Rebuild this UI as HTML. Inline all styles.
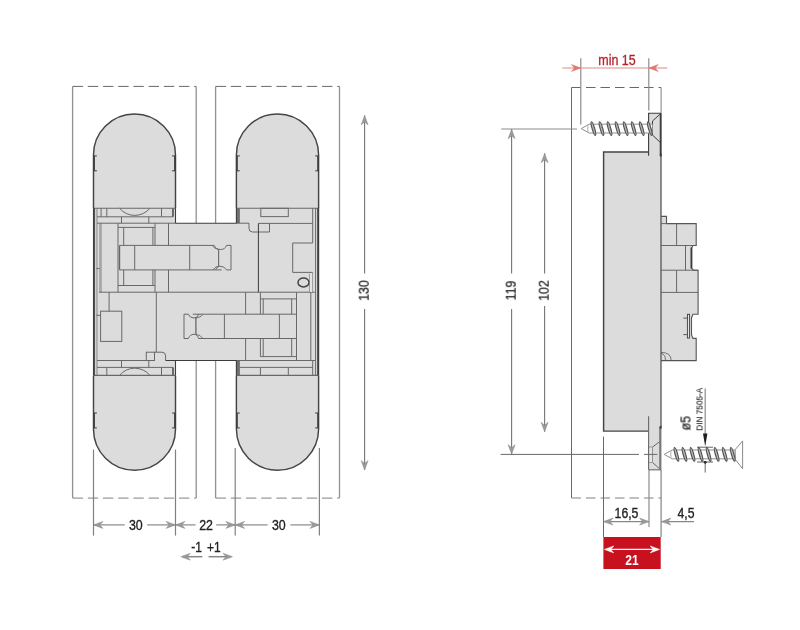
<!DOCTYPE html>
<html lang="en">
<head>
<meta charset="utf-8">
<title>Hinge dimensions</title>
<style>
html,body{margin:0;padding:0;background:#fff;}
body{width:800px;height:630px;overflow:hidden;}
svg{display:block;font-family:"Liberation Sans",sans-serif;}
svg text{will-change:transform;}
</style>
</head>
<body>
<svg width="800" height="630" viewBox="0 0 800 630">
<rect x="0" y="0" width="800" height="630" fill="#ffffff"/>
<g id="front-view">
<line x1="72.6" y1="86.4" x2="72.6" y2="498.1" stroke="#919191" stroke-width="1.3" />
<line x1="196.2" y1="86.4" x2="196.2" y2="498.1" stroke="#919191" stroke-width="1.3" />
<line x1="72.6" y1="86.4" x2="196.2" y2="86.4" stroke="#686868" stroke-width="1" stroke-dasharray="10.4 4.8"/>
<line x1="72.6" y1="498.1" x2="196.2" y2="498.1" stroke="#808080" stroke-width="1" stroke-dasharray="10.4 4.8"/>
<line x1="215.6" y1="86.4" x2="215.6" y2="498.1" stroke="#919191" stroke-width="1.3" />
<line x1="339.5" y1="86.4" x2="339.5" y2="498.1" stroke="#919191" stroke-width="1.3" />
<line x1="215.6" y1="86.4" x2="339.5" y2="86.4" stroke="#686868" stroke-width="1" stroke-dasharray="10.4 4.8"/>
<line x1="215.6" y1="498.1" x2="339.5" y2="498.1" stroke="#808080" stroke-width="1" stroke-dasharray="10.4 4.8"/>
<path d="M93.5,155.0 A41.0,41.0 0 0 1 175.5,155.0 V429.2 A41.0,41.0 0 0 1 93.5,429.2 Z" fill="#dcdcdc" stroke="none" stroke-width="0" />
<path d="M236.4,155.10000000000002 A41.10000000000001,41.10000000000001 0 0 1 318.6,155.10000000000002 V429.09999999999997 A41.10000000000001,41.10000000000001 0 0 1 236.4,429.09999999999997 Z" fill="#dcdcdc" stroke="none" stroke-width="0" />
<rect x="174.5" y="223.2" width="62.9" height="137.3" fill="#dcdcdc" />
<rect x="99.2" y="223.2" width="2.6" height="69.0" fill="#a4a4a4" />
<rect x="94.4" y="208.2" width="2.6" height="167.2" fill="#cfcfcf" />
<rect x="172" y="208.3" width="2" height="8.5" fill="#6a6a6a" />
<rect x="172" y="367.4" width="2" height="8.0" fill="#6a6a6a" />
<rect x="236.3" y="208.3" width="3.6" height="14.9" fill="#707070" />
<rect x="236.3" y="360.5" width="3.6" height="14.9" fill="#707070" />
<line x1="97" y1="208.2" x2="97" y2="375.4" stroke="#8c8c8c" stroke-width="1" />
<line x1="101.1" y1="208.2" x2="101.1" y2="216.8" stroke="#686868" stroke-width="1" />
<line x1="106.8" y1="208.2" x2="106.8" y2="216.8" stroke="#686868" stroke-width="1" />
<line x1="161.5" y1="208.2" x2="161.5" y2="216.8" stroke="#686868" stroke-width="1" />
<line x1="97" y1="216.8" x2="173" y2="216.8" stroke="#686868" stroke-width="1" />
<path d="M119.5,208.2 A19.75,19.75 0 0 0 150,208.2" fill="none" stroke="#686868" stroke-width="1" />
<line x1="121.5" y1="216.8" x2="121.5" y2="223.2" stroke="#686868" stroke-width="1" />
<line x1="148.8" y1="216.8" x2="148.8" y2="223.2" stroke="#686868" stroke-width="1" />
<line x1="118" y1="223.2" x2="118" y2="292.2" stroke="#686868" stroke-width="1" />
<line x1="155" y1="223.2" x2="155" y2="245.4" stroke="#686868" stroke-width="1" />
<line x1="155" y1="269.9" x2="155" y2="292.2" stroke="#686868" stroke-width="1" />
<line x1="118" y1="227.4" x2="155" y2="227.4" stroke="#686868" stroke-width="1" />
<line x1="123.7" y1="227.4" x2="123.7" y2="245.4" stroke="#686868" stroke-width="1" />
<line x1="123.7" y1="269.9" x2="123.7" y2="285.5" stroke="#686868" stroke-width="1" />
<line x1="152.9" y1="227.4" x2="152.9" y2="245.4" stroke="#686868" stroke-width="1" />
<line x1="152.9" y1="269.9" x2="152.9" y2="285.5" stroke="#686868" stroke-width="1" />
<line x1="168.5" y1="223.2" x2="168.5" y2="245.4" stroke="#686868" stroke-width="1" />
<line x1="168.5" y1="269.9" x2="168.5" y2="292.2" stroke="#686868" stroke-width="1" />
<line x1="119.5" y1="245.4" x2="214" y2="245.4" stroke="#686868" stroke-width="1" />
<line x1="226.5" y1="245.4" x2="231" y2="245.4" stroke="#686868" stroke-width="1" />
<line x1="119.5" y1="269.9" x2="221.7" y2="269.9" stroke="#686868" stroke-width="1" />
<line x1="226.5" y1="269.9" x2="231" y2="269.9" stroke="#686868" stroke-width="1" />
<line x1="119.5" y1="245.4" x2="119.5" y2="269.9" stroke="#686868" stroke-width="1.4" />
<line x1="231" y1="245.4" x2="231" y2="269.9" stroke="#686868" stroke-width="1" />
<line x1="134.7" y1="245.4" x2="134.7" y2="269.9" stroke="#686868" stroke-width="1" />
<line x1="189.7" y1="245.4" x2="189.7" y2="269.9" stroke="#686868" stroke-width="1" />
<path d="M214.2,245.4 Q215.8,249.5 220.6,249.5 Q225,249.5 226.5,245.4" fill="none" stroke="#686868" stroke-width="1" />
<path d="M212.2,245.4 Q214,248.8 218.4,249.4" fill="none" stroke="#686868" stroke-width="0.9" />
<path d="M213,269.9 Q215,266.2 219.8,266.2 Q224.6,266.2 226.5,269.9" fill="none" stroke="#686868" stroke-width="1" />
<path d="M215.6,269.9 Q216.6,267 219.2,266.3" fill="none" stroke="#686868" stroke-width="0.9" />
<line x1="218.6" y1="249.3" x2="218.6" y2="266.3" stroke="#686868" stroke-width="1.1" />
<line x1="118" y1="285.5" x2="155" y2="285.5" stroke="#686868" stroke-width="1" />
<line x1="99" y1="292.2" x2="315.6" y2="292.2" stroke="#686868" stroke-width="1" />
<line x1="96.4" y1="268.6" x2="99.6" y2="268.6" stroke="#686868" stroke-width="1" />
<line x1="96.4" y1="315.3" x2="100.6" y2="315.3" stroke="#686868" stroke-width="1" />
<line x1="109.1" y1="292.2" x2="109.1" y2="311.2" stroke="#686868" stroke-width="1" />
<rect x="100.6" y="311.2" width="21.2" height="30.2" fill="none" stroke="#686868" stroke-width="1"/>
<line x1="156.3" y1="292.2" x2="156.3" y2="352.2" stroke="#686868" stroke-width="1" />
<rect x="146.3" y="352.2" width="8.2" height="8.3" fill="none" stroke="#686868" stroke-width="1"/>
<path d="M154.5,352.2 H162 Q165.6,352.2 165.6,356 V360.5" fill="none" stroke="#686868" stroke-width="1" />
<line x1="97" y1="360.5" x2="154.5" y2="360.5" stroke="#686868" stroke-width="1" />
<line x1="121.5" y1="360.5" x2="121.5" y2="367.4" stroke="#686868" stroke-width="1" />
<line x1="148.8" y1="360.5" x2="148.8" y2="367.4" stroke="#686868" stroke-width="1" />
<line x1="97" y1="367.4" x2="173" y2="367.4" stroke="#686868" stroke-width="1" />
<line x1="106.8" y1="367.4" x2="106.8" y2="375.4" stroke="#686868" stroke-width="1" />
<line x1="161.5" y1="367.4" x2="161.5" y2="375.4" stroke="#686868" stroke-width="1" />
<path d="M119.5,375.4 A19.75,19.75 0 0 1 150,375.4" fill="none" stroke="#686868" stroke-width="1" />
<line x1="184" y1="314.2" x2="188.3" y2="314.2" stroke="#686868" stroke-width="1" />
<line x1="192.8" y1="314.2" x2="296.5" y2="314.2" stroke="#686868" stroke-width="1" />
<line x1="184" y1="338.5" x2="188.3" y2="338.5" stroke="#686868" stroke-width="1" />
<line x1="198.6" y1="338.5" x2="296.5" y2="338.5" stroke="#686868" stroke-width="1" />
<line x1="184" y1="314.2" x2="184" y2="338.5" stroke="#686868" stroke-width="1" />
<line x1="224.4" y1="314.2" x2="224.4" y2="338.5" stroke="#686868" stroke-width="1" />
<line x1="279.4" y1="314.2" x2="279.4" y2="338.5" stroke="#686868" stroke-width="1" />
<path d="M188.3,314.2 Q189.8,318 194,318 Q197.6,318 198.9,314.2" fill="none" stroke="#686868" stroke-width="1" />
<path d="M195,318 Q201,317.6 202.9,314.2" fill="none" stroke="#686868" stroke-width="0.9" />
<path d="M188.3,338.5 Q189.8,334.3 194,334.3 Q197.4,334.3 198.6,338.5" fill="none" stroke="#686868" stroke-width="1" />
<path d="M195.6,334.4 Q200.6,334.6 202.9,338.5" fill="none" stroke="#686868" stroke-width="0.9" />
<line x1="195.9" y1="318" x2="195.9" y2="334.6" stroke="#686868" stroke-width="1.3" />
<line x1="245.6" y1="292.2" x2="245.6" y2="314.2" stroke="#686868" stroke-width="1" />
<line x1="245.6" y1="338.5" x2="245.6" y2="360.5" stroke="#686868" stroke-width="1" />
<rect x="260.8" y="208.3" width="27.5" height="8.3" fill="none" stroke="#686868" stroke-width="1"/>
<line x1="258.5" y1="223.4" x2="312.7" y2="223.4" stroke="#686868" stroke-width="1" />
<path d="M236.4,223.2 H249 V228.6 Q249,232 252.6,232 H269.5 V223.4" fill="none" stroke="#686868" stroke-width="1" />
<line x1="258.4" y1="223.4" x2="258.4" y2="292.2" stroke="#3c3c3c" stroke-width="1" />
<path d="M312.7,208.3 V243 H292.7 V272.4 H312.4 V292.2" fill="none" stroke="#686868" stroke-width="1" />
<line x1="309.9" y1="273.5" x2="309.9" y2="292.2" stroke="#686868" stroke-width="1" />
<ellipse cx="303.5" cy="282.4" rx="5.5" ry="4.5" fill="none" stroke="#454545" stroke-width="1.5"/>
<rect x="309.9" y="273.2" width="2.5" height="18.8" fill="#e4e4e4" />
<line x1="315.6" y1="208.2" x2="315.6" y2="375.4" stroke="#686868" stroke-width="1" />
<line x1="260.4" y1="292.2" x2="260.4" y2="314.2" stroke="#686868" stroke-width="1" />
<line x1="260.4" y1="338.5" x2="260.4" y2="356.6" stroke="#686868" stroke-width="1" />
<line x1="263.2" y1="298.9" x2="263.2" y2="314.2" stroke="#686868" stroke-width="1" />
<line x1="263.2" y1="338.5" x2="263.2" y2="356.6" stroke="#686868" stroke-width="1" />
<line x1="291.7" y1="298.9" x2="291.7" y2="314.2" stroke="#686868" stroke-width="1" />
<line x1="291.7" y1="338.5" x2="291.7" y2="356.6" stroke="#686868" stroke-width="1" />
<line x1="296.5" y1="292.2" x2="296.5" y2="360.5" stroke="#686868" stroke-width="1" />
<line x1="310.8" y1="292.2" x2="310.8" y2="360.5" stroke="#686868" stroke-width="1" />
<line x1="260.4" y1="298.9" x2="296.5" y2="298.9" stroke="#686868" stroke-width="1" />
<line x1="260.4" y1="356.6" x2="296.5" y2="356.6" stroke="#686868" stroke-width="1" />
<line x1="236.3" y1="360.5" x2="315.6" y2="360.5" stroke="#686868" stroke-width="1" />
<line x1="239.9" y1="367.4" x2="312.7" y2="367.4" stroke="#686868" stroke-width="1" />
<line x1="260.4" y1="367.4" x2="260.4" y2="375.4" stroke="#686868" stroke-width="1" />
<line x1="288.3" y1="367.4" x2="288.3" y2="375.4" stroke="#686868" stroke-width="1" />
<line x1="312.7" y1="360.5" x2="312.7" y2="375.4" stroke="#686868" stroke-width="1" />
<line x1="93.5" y1="208.2" x2="175.5" y2="208.2" stroke="#686868" stroke-width="1.1" />
<line x1="93.5" y1="375.4" x2="175.5" y2="375.4" stroke="#686868" stroke-width="1.1" />
<line x1="236.4" y1="208.2" x2="318.6" y2="208.2" stroke="#686868" stroke-width="1.1" />
<line x1="236.4" y1="375.4" x2="318.6" y2="375.4" stroke="#686868" stroke-width="1.1" />
<line x1="97" y1="223.2" x2="175.5" y2="223.2" stroke="#686868" stroke-width="1" />
<line x1="175.5" y1="223.2" x2="236.4" y2="223.2" stroke="#3c3c3c" stroke-width="1.1" />
<line x1="165.6" y1="360.5" x2="236.4" y2="360.5" stroke="#3c3c3c" stroke-width="1.1" />
<path d="M93.5,208.2 V155.0 A41.0,41.0 0 0 1 175.5,155.0 V208.2" fill="none" stroke="#444" stroke-width="1.45" />
<path d="M93.5,375.4 V429.2 A41.0,41.0 0 0 0 175.5,429.2 V375.4" fill="none" stroke="#444" stroke-width="1.45" />
<path d="M236.4,208.2 V155.10000000000002 A41.10000000000001,41.10000000000001 0 0 1 318.6,155.10000000000002 V208.2" fill="none" stroke="#444" stroke-width="1.45" />
<path d="M236.4,375.4 V429.09999999999997 A41.10000000000001,41.10000000000001 0 0 0 318.6,429.09999999999997 V375.4" fill="none" stroke="#444" stroke-width="1.45" />
<line x1="93.9" y1="208.2" x2="93.9" y2="375.4" stroke="#3c3c3c" stroke-width="1.9" />
<line x1="318.20000000000005" y1="208.2" x2="318.20000000000005" y2="375.4" stroke="#3c3c3c" stroke-width="2.0" />
<line x1="175.5" y1="208.2" x2="175.5" y2="223.2" stroke="#3c3c3c" stroke-width="1.1" />
<line x1="175.5" y1="360.5" x2="175.5" y2="375.4" stroke="#3c3c3c" stroke-width="1.1" />
<line x1="236.4" y1="208.2" x2="236.4" y2="223.2" stroke="#3c3c3c" stroke-width="1.1" />
<line x1="236.4" y1="360.5" x2="236.4" y2="375.4" stroke="#3c3c3c" stroke-width="1.1" />
<line x1="93.5" y1="155.9" x2="96.9" y2="155.9" stroke="#3c3c3c" stroke-width="1" />
<line x1="93.5" y1="170.8" x2="96.9" y2="170.8" stroke="#3c3c3c" stroke-width="1" />
<line x1="94.1" y1="155.9" x2="94.1" y2="170.8" stroke="#3c3c3c" stroke-width="1.6" />
<line x1="93.5" y1="413.0" x2="96.9" y2="413.0" stroke="#3c3c3c" stroke-width="1" />
<line x1="93.5" y1="427.9" x2="96.9" y2="427.9" stroke="#3c3c3c" stroke-width="1" />
<line x1="94.1" y1="413.0" x2="94.1" y2="427.9" stroke="#3c3c3c" stroke-width="1.6" />
<line x1="175.5" y1="155.9" x2="172.1" y2="155.9" stroke="#3c3c3c" stroke-width="1" />
<line x1="175.5" y1="170.8" x2="172.1" y2="170.8" stroke="#3c3c3c" stroke-width="1" />
<line x1="174.9" y1="155.9" x2="174.9" y2="170.8" stroke="#3c3c3c" stroke-width="1.6" />
<line x1="175.5" y1="413.0" x2="172.1" y2="413.0" stroke="#3c3c3c" stroke-width="1" />
<line x1="175.5" y1="427.9" x2="172.1" y2="427.9" stroke="#3c3c3c" stroke-width="1" />
<line x1="174.9" y1="413.0" x2="174.9" y2="427.9" stroke="#3c3c3c" stroke-width="1.6" />
<line x1="236.4" y1="155.9" x2="239.8" y2="155.9" stroke="#3c3c3c" stroke-width="1" />
<line x1="236.4" y1="170.8" x2="239.8" y2="170.8" stroke="#3c3c3c" stroke-width="1" />
<line x1="237.0" y1="155.9" x2="237.0" y2="170.8" stroke="#3c3c3c" stroke-width="1.6" />
<line x1="236.4" y1="413.0" x2="239.8" y2="413.0" stroke="#3c3c3c" stroke-width="1" />
<line x1="236.4" y1="427.9" x2="239.8" y2="427.9" stroke="#3c3c3c" stroke-width="1" />
<line x1="237.0" y1="413.0" x2="237.0" y2="427.9" stroke="#3c3c3c" stroke-width="1.6" />
<line x1="318.6" y1="155.9" x2="315.20000000000005" y2="155.9" stroke="#3c3c3c" stroke-width="1" />
<line x1="318.6" y1="170.8" x2="315.20000000000005" y2="170.8" stroke="#3c3c3c" stroke-width="1" />
<line x1="318.0" y1="155.9" x2="318.0" y2="170.8" stroke="#3c3c3c" stroke-width="1.6" />
<line x1="318.6" y1="413.0" x2="315.20000000000005" y2="413.0" stroke="#3c3c3c" stroke-width="1" />
<line x1="318.6" y1="427.9" x2="315.20000000000005" y2="427.9" stroke="#3c3c3c" stroke-width="1" />
<line x1="318.0" y1="413.0" x2="318.0" y2="427.9" stroke="#3c3c3c" stroke-width="1.6" />
<line x1="93.5" y1="449.5" x2="93.5" y2="535.6" stroke="#808080" stroke-width="1.2" />
<line x1="175.5" y1="449.5" x2="175.5" y2="535.6" stroke="#808080" stroke-width="1.2" />
<line x1="235.20000000000002" y1="448" x2="235.20000000000002" y2="535.6" stroke="#808080" stroke-width="1.2" />
<line x1="319.40000000000003" y1="448" x2="319.40000000000003" y2="535.6" stroke="#808080" stroke-width="1.2" />
<line x1="93.5" y1="524.9" x2="124.7" y2="524.9" stroke="#888888" stroke-width="1.2" />
<line x1="147.2" y1="524.9" x2="175.5" y2="524.9" stroke="#888888" stroke-width="1.2" />
<line x1="175.5" y1="524.9" x2="195.5" y2="524.9" stroke="#888888" stroke-width="1.2" />
<line x1="216.2" y1="524.9" x2="236.4" y2="524.9" stroke="#888888" stroke-width="1.2" />
<line x1="236.4" y1="524.9" x2="267.6" y2="524.9" stroke="#888888" stroke-width="1.2" />
<line x1="290.4" y1="524.9" x2="319.40000000000003" y2="524.9" stroke="#888888" stroke-width="1.2" />
<polygon points="93.5,524.9 102.9,521.4 99.9,524.9 102.9,528.4" fill="#9a9a9a" stroke="#888888" stroke-width="0.5" stroke-linejoin="round"/>
<polygon points="175.5,524.9 166.1,521.4 169.1,524.9 166.1,528.4" fill="#9a9a9a" stroke="#888888" stroke-width="0.5" stroke-linejoin="round"/>
<polygon points="175.5,524.9 184.9,521.4 181.9,524.9 184.9,528.4" fill="#9a9a9a" stroke="#888888" stroke-width="0.5" stroke-linejoin="round"/>
<polygon points="235.2,524.9 225.8,521.4 228.8,524.9 225.8,528.4" fill="#9a9a9a" stroke="#888888" stroke-width="0.5" stroke-linejoin="round"/>
<polygon points="235.2,524.9 244.6,521.4 241.6,524.9 244.6,528.4" fill="#9a9a9a" stroke="#888888" stroke-width="0.5" stroke-linejoin="round"/>
<polygon points="319.4,524.9 310.0,521.4 313.0,524.9 310.0,528.4" fill="#9a9a9a" stroke="#888888" stroke-width="0.5" stroke-linejoin="round"/>
<text transform="translate(135.8,530.3) scale(0.81,1)" font-size="15.3" fill="#222222" stroke="#222222" stroke-width="0.36" text-anchor="middle" font-weight="normal">30</text>
<text transform="translate(206.1,530.3) scale(0.81,1)" font-size="15.3" fill="#222222" stroke="#222222" stroke-width="0.36" text-anchor="middle" font-weight="normal">22</text>
<text transform="translate(278.8,530.3) scale(0.81,1)" font-size="15.3" fill="#222222" stroke="#222222" stroke-width="0.36" text-anchor="middle" font-weight="normal">30</text>
<text transform="translate(196.5,552.2) scale(0.8,1)" font-size="15" fill="#222222" stroke="#222222" stroke-width="0.36" text-anchor="middle" font-weight="normal">-1</text>
<text transform="translate(213.9,552.2) scale(0.8,1)" font-size="15" fill="#222222" stroke="#222222" stroke-width="0.36" text-anchor="middle" font-weight="normal">+1</text>
<line x1="183" y1="556.7" x2="202.4" y2="556.7" stroke="#888888" stroke-width="1.5" />
<line x1="208.6" y1="556.7" x2="230.4" y2="556.7" stroke="#888888" stroke-width="1.5" />
<polygon points="180.9,556.7 190.3,553.2 187.3,556.7 190.3,560.2" fill="#9a9a9a" stroke="#888888" stroke-width="0.5" stroke-linejoin="round"/>
<polygon points="232.4,556.7 223.0,553.2 226.0,556.7 223.0,560.2" fill="#9a9a9a" stroke="#888888" stroke-width="0.5" stroke-linejoin="round"/>
<line x1="364.6" y1="115.5" x2="364.6" y2="273.5" stroke="#757575" stroke-width="1.1" />
<line x1="364.6" y1="309" x2="364.6" y2="470" stroke="#757575" stroke-width="1.1" />
<polygon points="364.6,115.5 361.1,124.9 364.6,121.9 368.1,124.9" fill="#9a9a9a" stroke="#888888" stroke-width="0.5" stroke-linejoin="round"/>
<polygon points="364.6,470 361.1,460.6 364.6,463.6 368.1,460.6" fill="#9a9a9a" stroke="#888888" stroke-width="0.5" stroke-linejoin="round"/>
<text transform="translate(368.7,290.6) rotate(-90) scale(0.81,1)" font-size="15.3" fill="#222222" stroke="#222222" stroke-width="0.25" text-anchor="middle" font-weight="normal">130</text>
</g>
<g id="side-view">
<line x1="571.5" y1="87.5" x2="571.5" y2="498" stroke="#686868" stroke-width="1" />
<line x1="571.5" y1="87.5" x2="661.1" y2="87.5" stroke="#686868" stroke-width="1" stroke-dasharray="9.5 5"/>
<line x1="571.5" y1="498" x2="661.1" y2="498" stroke="#808080" stroke-width="1" stroke-dasharray="9.5 5"/>
<line x1="661.1" y1="87.5" x2="661.1" y2="113.3" stroke="#8c8c8c" stroke-width="1.1" />
<line x1="661.1" y1="469.8" x2="661.1" y2="537" stroke="#8c8c8c" stroke-width="1.3" />
<line x1="501.2" y1="129" x2="577" y2="129" stroke="#8c8c8c" stroke-width="1.2" />
<line x1="500.7" y1="454.4" x2="638.9" y2="454.4" stroke="#686868" stroke-width="1" />
<line x1="603.5" y1="436.6" x2="603.5" y2="537" stroke="#686868" stroke-width="1" />
<line x1="649" y1="469.8" x2="649" y2="527" stroke="#8c8c8c" stroke-width="1.2" />
<line x1="580.8" y1="58.3" x2="580.8" y2="124.6" stroke="#8c8c8c" stroke-width="1.2" />
<line x1="648.8" y1="58.3" x2="648.8" y2="110.5" stroke="#8c8c8c" stroke-width="1.2" />
<rect x="603.6" y="152" width="57.5" height="279.1" fill="#dcdcdc" />
<rect x="648.6" y="113.3" width="12.5" height="39.2" fill="#dcdcdc" />
<rect x="648.6" y="431" width="12.5" height="38.8" fill="#dcdcdc" />
<path d="M661.1,216.4 H666.5 V223.6 H696.2 V245.5 H693 L691.6,248 V268 L693.5,270.2 H698.1 V314.3 H693 L691.5,317.7 V334.9 L693,338.4 H696.2 V360.6 H661.1 Z" fill="#dcdcdc" stroke="none" stroke-width="0" />
<line x1="676.6" y1="223.6" x2="676.6" y2="245.5" stroke="#686868" stroke-width="1" />
<line x1="685.5" y1="245.5" x2="685.5" y2="270.2" stroke="#686868" stroke-width="1" />
<line x1="676.6" y1="270.2" x2="676.6" y2="292.4" stroke="#686868" stroke-width="1" />
<line x1="661.1" y1="245.5" x2="696.2" y2="245.5" stroke="#686868" stroke-width="1" />
<line x1="661.1" y1="270.2" x2="698.1" y2="270.2" stroke="#686868" stroke-width="1" />
<line x1="661.1" y1="292.4" x2="698.1" y2="292.4" stroke="#686868" stroke-width="1" />
<rect x="687.4" y="314.3" width="2.2" height="23.7" fill="#e6e6e6" stroke="#3c3c3c" stroke-width="0.9"/>
<line x1="683.3" y1="318.1" x2="687.4" y2="318.1" stroke="#3c3c3c" stroke-width="0.8" />
<line x1="683.3" y1="334.6" x2="687.4" y2="334.6" stroke="#3c3c3c" stroke-width="0.8" />
<path d="M661.1,352.4 Q671.2,352.4 671.2,360.6 M661.1,353.4 Q665.5,354 665.5,360.6" fill="none" stroke="#686868" stroke-width="0.9" />
<path d="M661.1,216.4 H666.5 V223.6 H696.2 V245.5 H693 L691.6,248 V268 L693.5,270.2 H698.1 V314.3 H693 L691.5,317.7 V334.9 L693,338.4 H696.2 V360.6 H661.1" fill="none" stroke="#565656" stroke-width="1.1" />
<line x1="661.1" y1="223.6" x2="666.5" y2="223.6" stroke="#686868" stroke-width="1" />
<line x1="691.4" y1="247.5" x2="691.4" y2="268.5" stroke="#3c3c3c" stroke-width="1.8" />
<path d="M660.3000000000001,114 L652.5,121 V135 L660.3000000000001,142.5" fill="none" stroke="#3c3c3c" stroke-width="1" />
<path d="M660.3000000000001,441.2 L652.5,447 V462.5 L660.3000000000001,469.3" fill="none" stroke="#686868" stroke-width="1" />
<rect x="648.6" y="447" width="3.9" height="15.5" fill="#e4e4e4" stroke="#8c8c8c" stroke-width="0.8"/>
<path d="M648.6,152 H603.6 V431.1 H648.6" fill="none" stroke="#444" stroke-width="1.45" />
<path d="M661.1,113.3 H648.6 V155.8" fill="none" stroke="#3c3c3c" stroke-width="1.1" />
<line x1="648.6" y1="416.2" x2="648.6" y2="469.8" stroke="#686868" stroke-width="1.1" />
<line x1="648.6" y1="469.8" x2="661.1" y2="469.8" stroke="#686868" stroke-width="1.1" />
<line x1="660.7" y1="113.3" x2="660.7" y2="156" stroke="#3c3c3c" stroke-width="1.9" />
<line x1="661.0" y1="156" x2="661.0" y2="427.3" stroke="#555" stroke-width="1.3" />
<line x1="660.3000000000001" y1="427.3" x2="660.3000000000001" y2="469.8" stroke="#787878" stroke-width="2.2" />
<line x1="644" y1="454.4" x2="657.3" y2="454.4" stroke="#686868" stroke-width="1" />
<rect x="659.9" y="153.5" width="1.8" height="3.0" fill="#3c3c3c" />
<rect x="659.6" y="426" width="2.0" height="2.6" fill="#3c3c3c" />
<path d="M581.2,128.6 L589.2,124.19999999999999 H652.5 V133.0 H589.2 Z" fill="#fff" stroke="#909090" stroke-width="1" />
<line x1="587.8000000000001" y1="125.19999999999999" x2="587.8000000000001" y2="132.0" stroke="#bbb" stroke-width="1.2" />
<ellipse cx="593.4" cy="128.6" rx="1.25" ry="7.1" transform="rotate(-16 593.4 128.6)" fill="#b8b8b8" stroke="#505050" stroke-width="1.15"/>
<ellipse cx="601.45" cy="128.6" rx="1.25" ry="7.1" transform="rotate(-16 601.45 128.6)" fill="#b8b8b8" stroke="#505050" stroke-width="1.15"/>
<ellipse cx="609.5" cy="128.6" rx="1.25" ry="7.1" transform="rotate(-16 609.5 128.6)" fill="#b8b8b8" stroke="#505050" stroke-width="1.15"/>
<ellipse cx="617.55" cy="128.6" rx="1.25" ry="7.1" transform="rotate(-16 617.55 128.6)" fill="#b8b8b8" stroke="#505050" stroke-width="1.15"/>
<ellipse cx="625.6" cy="128.6" rx="1.25" ry="7.1" transform="rotate(-16 625.6 128.6)" fill="#b8b8b8" stroke="#505050" stroke-width="1.15"/>
<ellipse cx="633.65" cy="128.6" rx="1.25" ry="7.1" transform="rotate(-16 633.65 128.6)" fill="#b8b8b8" stroke="#505050" stroke-width="1.15"/>
<ellipse cx="641.7" cy="128.6" rx="1.25" ry="7.1" transform="rotate(-16 641.7 128.6)" fill="#b8b8b8" stroke="#505050" stroke-width="1.15"/>
<ellipse cx="649.75" cy="128.6" rx="1.25" ry="7.1" transform="rotate(-16 649.75 128.6)" fill="#b8b8b8" stroke="#505050" stroke-width="1.15"/>
<path d="M735,449.8 L742.6,440.9 V468.7 L735,459.2 Z" fill="#fff" stroke="#8a8a8a" stroke-width="1" />
<path d="M664.2,454.4 L672.2,450.0 H735 V458.79999999999995 H672.2 Z" fill="#fff" stroke="#909090" stroke-width="1" />
<line x1="670.8000000000001" y1="451.0" x2="670.8000000000001" y2="457.79999999999995" stroke="#bbb" stroke-width="1.2" />
<ellipse cx="676.4" cy="454.4" rx="1.25" ry="7.1" transform="rotate(-16 676.4 454.4)" fill="#b8b8b8" stroke="#505050" stroke-width="1.15"/>
<ellipse cx="684.45" cy="454.4" rx="1.25" ry="7.1" transform="rotate(-16 684.45 454.4)" fill="#b8b8b8" stroke="#505050" stroke-width="1.15"/>
<ellipse cx="692.5" cy="454.4" rx="1.25" ry="7.1" transform="rotate(-16 692.5 454.4)" fill="#b8b8b8" stroke="#505050" stroke-width="1.15"/>
<ellipse cx="700.55" cy="454.4" rx="1.25" ry="7.1" transform="rotate(-16 700.55 454.4)" fill="#b8b8b8" stroke="#505050" stroke-width="1.15"/>
<ellipse cx="708.6" cy="454.4" rx="1.25" ry="7.1" transform="rotate(-16 708.6 454.4)" fill="#b8b8b8" stroke="#505050" stroke-width="1.15"/>
<ellipse cx="716.65" cy="454.4" rx="1.25" ry="7.1" transform="rotate(-16 716.65 454.4)" fill="#b8b8b8" stroke="#505050" stroke-width="1.15"/>
<ellipse cx="724.7" cy="454.4" rx="1.25" ry="7.1" transform="rotate(-16 724.7 454.4)" fill="#b8b8b8" stroke="#505050" stroke-width="1.15"/>
<ellipse cx="732.75" cy="454.4" rx="1.25" ry="7.1" transform="rotate(-16 732.75 454.4)" fill="#b8b8b8" stroke="#505050" stroke-width="1.15"/>
<line x1="705.2" y1="388.4" x2="705.2" y2="434" stroke="#8c8c8c" stroke-width="1.2" />
<polygon points="703,433.6 707.4,433.6 705.2,446.6" fill="#1e1e1e"/>
<line x1="705.2" y1="461" x2="705.2" y2="472.6" stroke="#686868" stroke-width="1" />
<circle cx="705.2" cy="462.3" r="1.4" fill="#1e1e1e"/>
<line x1="697" y1="447.2" x2="713" y2="447.2" stroke="#3c3c3c" stroke-width="0.8" />
<line x1="697" y1="462" x2="713" y2="462" stroke="#3c3c3c" stroke-width="0.8" />
<text transform="translate(690.5,423.3) rotate(-90) scale(0.81,1)" font-size="15.3" fill="#222222" stroke="#222222" stroke-width="0.25" text-anchor="middle" font-weight="normal">ø5</text>
<text transform="translate(702.5,409.2) rotate(-90) scale(0.84,1)" font-size="9.8" fill="#222222" stroke="#222222" stroke-width="0.1" text-anchor="middle" font-weight="normal">DIN 7505-A</text>
<line x1="511.6" y1="129" x2="511.6" y2="273.5" stroke="#757575" stroke-width="1.1" />
<line x1="511.6" y1="309" x2="511.6" y2="454.4" stroke="#757575" stroke-width="1.1" />
<polygon points="511.6,129.3 508.1,138.7 511.6,135.7 515.1,138.7" fill="#9a9a9a" stroke="#888888" stroke-width="0.5" stroke-linejoin="round"/>
<polygon points="511.6,454.1 508.1,444.7 511.6,447.7 515.1,444.7" fill="#9a9a9a" stroke="#888888" stroke-width="0.5" stroke-linejoin="round"/>
<line x1="544.6" y1="153.4" x2="544.6" y2="273.5" stroke="#757575" stroke-width="1.1" />
<line x1="544.6" y1="306.1" x2="544.6" y2="431.7" stroke="#757575" stroke-width="1.1" />
<polygon points="544.6,153.4 541.1,162.8 544.6,159.8 548.1,162.8" fill="#9a9a9a" stroke="#888888" stroke-width="0.5" stroke-linejoin="round"/>
<polygon points="544.6,431.7 541.1,422.3 544.6,425.3 548.1,422.3" fill="#9a9a9a" stroke="#888888" stroke-width="0.5" stroke-linejoin="round"/>
<text transform="translate(515.7,290.6) rotate(-90) scale(0.81,1)" font-size="15.3" fill="#222222" stroke="#222222" stroke-width="0.25" text-anchor="middle" font-weight="normal">119</text>
<text transform="translate(548.7,290.6) rotate(-90) scale(0.81,1)" font-size="15.3" fill="#222222" stroke="#222222" stroke-width="0.25" text-anchor="middle" font-weight="normal">102</text>
<line x1="562.3" y1="68" x2="667.4" y2="68" stroke="#dc8b86" stroke-width="1.1" />
<polygon points="580.8,68 571.4,64.5 574.4,68 571.4,71.5" fill="#e0776f" stroke="#e0776f" stroke-width="0.5" stroke-linejoin="round"/>
<polygon points="648.8,68 658.2,64.5 655.2,68 658.2,71.5" fill="#e0776f" stroke="#e0776f" stroke-width="0.5" stroke-linejoin="round"/>
<text transform="translate(617,64.6) scale(0.86,1)" font-size="14.5" fill="#b5202a" stroke="#b5202a" stroke-width="0.3" text-anchor="middle" font-weight="normal">min 15</text>
<line x1="603.6" y1="521.6" x2="649" y2="521.6" stroke="#888888" stroke-width="1.2" />
<polygon points="603.6,521.6 613.0,518.1 610.0,521.6 613.0,525.1" fill="#9a9a9a" stroke="#888888" stroke-width="0.5" stroke-linejoin="round"/>
<polygon points="649,521.6 639.6,518.1 642.6,521.6 639.6,525.1" fill="#9a9a9a" stroke="#888888" stroke-width="0.5" stroke-linejoin="round"/>
<line x1="661.5" y1="521.6" x2="694" y2="521.6" stroke="#888888" stroke-width="1.2" />
<polygon points="661.5,521.6 670.9,518.1 667.9,521.6 670.9,525.1" fill="#9a9a9a" stroke="#888888" stroke-width="0.5" stroke-linejoin="round"/>
<text transform="translate(626.5,518) scale(0.8,1)" font-size="15.3" fill="#222222" stroke="#222222" stroke-width="0.36" text-anchor="middle" font-weight="normal">16,5</text>
<text transform="translate(686,518) scale(0.8,1)" font-size="15.3" fill="#222222" stroke="#222222" stroke-width="0.36" text-anchor="middle" font-weight="normal">4,5</text>
<rect x="603.4" y="537" width="57.3" height="32" fill="#c7111f" />
<line x1="606" y1="549.4" x2="658" y2="549.4" stroke="#fff" stroke-width="1.1" />
<polygon points="604.4,549.4 613.8,545.9 610.8,549.4 613.8,552.9" fill="#fff" stroke="#fff" stroke-width="0.5" stroke-linejoin="round"/>
<polygon points="659.6,549.4 650.2,545.9 653.2,549.4 650.2,552.9" fill="#fff" stroke="#fff" stroke-width="0.5" stroke-linejoin="round"/>
<text transform="translate(632,565.2) scale(0.86,1)" font-size="14" fill="#fff" stroke="#fff" stroke-width="0" text-anchor="middle" font-weight="bold">21</text>
</g>
</svg>
</body>
</html>
